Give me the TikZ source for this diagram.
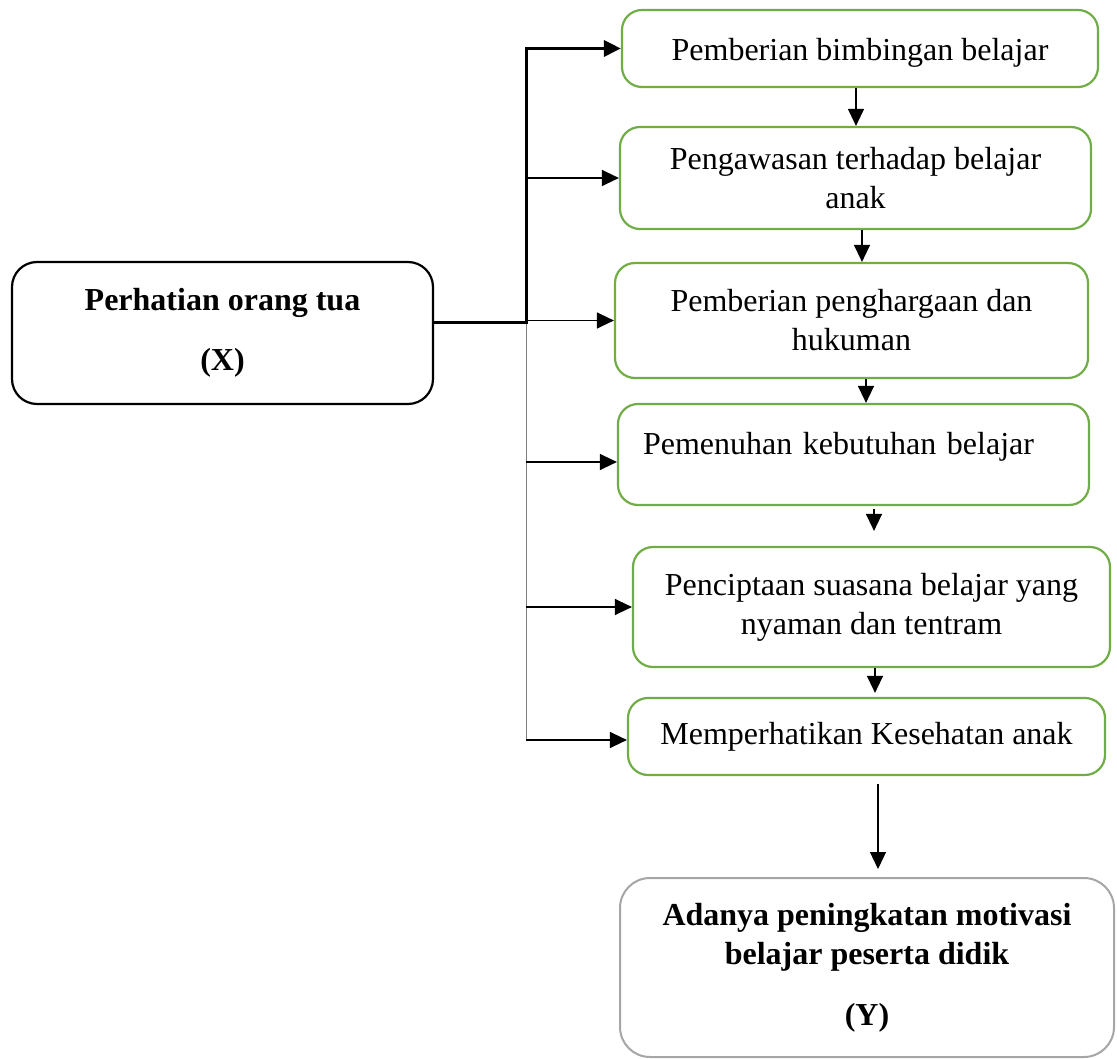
\documentclass[tikz,border=0pt]{standalone}
\usepackage{fontspec}
\setmainfont{Liberation Serif}
\usepackage{tikz}
\usetikzlibrary{arrows.meta}
\definecolor{boxgreen}{HTML}{70AD47}
\definecolor{boxgray}{HTML}{A6A6A6}

\begin{document}
\begin{tikzpicture}[x=1pt,y=-1pt,
    font=\fontsize{32}{39}\selectfont,
    box/.style={draw=boxgreen,line width=2.2pt,rounded corners=20pt,align=center,inner sep=0pt},
    arr/.style={-{Triangle[length=17pt,width=16pt]},line width=1.3pt}]
    \useasboundingbox (0,0) rectangle (1117,1059);
    \node[box,draw=black,rounded corners=25pt,minimum width=421pt,minimum height=142pt] (X) at (222.5,333)
        {\textbf{Perhatian orang tua}\\[21pt]\textbf{(X)}};
    \node[box,minimum width=476pt,minimum height=77pt,text height=25pt,text depth=0pt] (B1) at (860,48.5) {Pemberian bimbingan belajar};
    \node[box,minimum width=471pt,minimum height=102pt] (B2) at (855.5,178) {Pengawasan terhadap belajar\\anak};
    \node[box,minimum width=473pt,minimum height=115pt] (B3) at (851.5,320.5) {Pemberian penghargaan dan\\hukuman};
    \node[box,minimum width=471pt,minimum height=101pt,align=left,text width=421pt,text height=24pt,text depth=25pt] (B4) at (853.5,454.5) {Pemenuhan kebutuhan belajar};
    \node[box,minimum width=477pt,minimum height=120pt] (B5) at (871.5,607) {Penciptaan suasana belajar yang\\nyaman dan tentram};
    \node[box,minimum width=477pt,minimum height=77pt] (B6) at (866.5,736.5) {Memperhatikan Kesehatan anak};
    \node[box,draw=boxgray,line width=2pt,rounded corners=30pt,minimum width=494pt,minimum height=179pt] (Y) at (867,967.5)
        {\textbf{Adanya peningkatan motivasi}\\\textbf{belajar peserta didik}\\[22pt]\textbf{(Y)}};

    \coordinate (J) at (526,323);
    \coordinate (E) at (526,740);
    \draw[gray,line width=1pt] (J) -- (E);
    \draw[arr,line width=3pt] (J -| X.east) -- (J) -- (J |- B1.west) -- (B1.west);
    \foreach \b in {B2,B3,B5}
        \draw[arr] (J |- \b.west) -- (\b.west);
    \draw[arr] ([yshift=-7.5pt]J |- B4.west) -- ([yshift=-7.5pt]B4.west);
    \draw[arr] (E) -- (E -| B6.west);

    \draw[arr] ([xshift=-4pt]B1.south) -- ([xshift=-4pt]B1.south |- B2.north);
    \draw[arr] ([xshift=6.5pt]B2.south) -- ([xshift=6.5pt]B2.south |- B3.north);
    \draw[arr] ([xshift=14.5pt]B3.south) -- ([xshift=14.5pt]B3.south |- B4.north);
    \draw[arr,shorten <=3pt,shorten >=15pt] ([xshift=20.5pt]B4.south) -- ([xshift=20.5pt]B4.south |- B5.north);
    \draw[arr,shorten >=4pt] ([xshift=3.5pt]B5.south) -- ([xshift=3.5pt]B5.south |- B6.north);
    \draw[arr,shorten <=8pt,shorten >=8pt] ([xshift=11.5pt]B6.south) -- ([xshift=11.5pt]B6.south |- Y.north);
\end{tikzpicture}
\end{document}
